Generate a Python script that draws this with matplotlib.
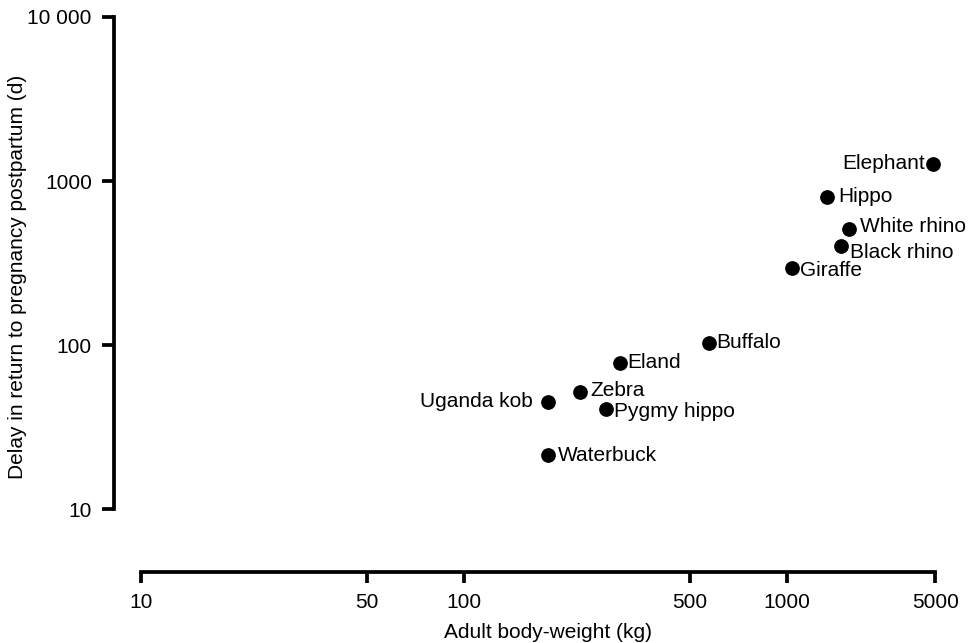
import numpy as np
import matplotlib
matplotlib.use("Agg")
import matplotlib.pyplot as plt
from matplotlib.ticker import NullLocator, FixedLocator, FixedFormatter

plt.rcParams["font.family"] = ["Liberation Sans", "DejaVu Sans"]

# values (body weight in kg, delay in days)
species = ["Elephant", "Hippo", "White rhino", "Black rhino", "Giraffe", "Buffalo",
           "Eland", "Zebra", "Uganda kob", "Pygmy hippo", "Waterbuck"]
body_kg = [4900, 1550, 1950, 1800, 1050, 575, 305, 228, 182, 275, 182]
delay_d = [1270, 800, 510, 400, 295, 103, 78, 52, 45, 41, 21.3]

x_ticks = [10, 50, 100, 500, 1000, 5000]
x_ticklabels = ["10", "50", "100", "500", "1000", "5000"]
y_ticks = [10, 100, 1000, 10000]
y_ticklabels = ["10", "100", "1000", "10 000"]

# label placement (offset in points, horizontal alignment)
label_offsets = {
    "Elephant": (-6, 0, "right"),
    "Hippo": (8, 0, "left"),
    "White rhino": (8, 1.5, "left"),
    "Black rhino": (6.5, -4.5, "left"),
    "Giraffe": (6, -2, "left"),
    "Buffalo": (5, 0, "left"),
    "Eland": (5, 0, "left"),
    "Zebra": (8, 0.5, "left"),
    "Uganda kob": (-11, 0, "right"),
    "Pygmy hippo": (6, -2, "left"),
    "Waterbuck": (7, 0, "left"),
}

# the printed x axis is log up to 1000 and squeezed beyond it
K = 212 / 323


def fwd(x):
    lx = np.log10(np.clip(x, 1e-9, None))
    return np.where(lx <= 3, lx, 3 + (lx - 3) * K)


def inv(u):
    u = np.asarray(u, dtype=float)
    return np.where(u <= 3, 10 ** u, 10 ** (3 + (u - 3) / K))


fig = plt.figure(figsize=(9.73, 6.43), dpi=100)
ax = fig.add_axes([114 / 973, 71 / 643, 831 / 973, 555 / 643])

ax.set_xscale("function", functions=(fwd, inv))
ax.set_yscale("log")
ax.set_xlim(8.25, 5560)
ax.set_ylim(4.13, 10000)

ax.scatter(body_kg, delay_d, s=92, color="black", zorder=3, clip_on=False)
for name, x, y in zip(species, body_kg, delay_d):
    dx, dy, ha = label_offsets[name]
    ax.annotate(name, (x, y), xytext=(dx, dy), textcoords="offset points",
                ha=ha, va="center", fontsize=15, color="black")

for side in ("top", "right"):
    ax.spines[side].set_visible(False)
ax.spines["left"].set_bounds(10, 10000)
ax.spines["bottom"].set_bounds(10, 5000)
for side in ("left", "bottom"):
    ax.spines[side].set_linewidth(2.7)
    ax.spines[side].set_capstyle("projecting")

ax.xaxis.set_major_locator(FixedLocator(x_ticks))
ax.xaxis.set_major_formatter(FixedFormatter(x_ticklabels))
ax.xaxis.set_minor_locator(NullLocator())
ax.yaxis.set_major_locator(FixedLocator(y_ticks))
ax.yaxis.set_major_formatter(FixedFormatter(y_ticklabels))
ax.yaxis.set_minor_locator(NullLocator())

ax.tick_params(axis="both", direction="out", width=2.7, labelsize=15, colors="black")
ax.tick_params(axis="y", length=9, pad=7)
ax.tick_params(axis="x", length=8, pad=7)

ax.set_xlabel("Adult body-weight (kg)", fontsize=15)
ax.xaxis.set_label_coords(0.522, -0.092)
ax.set_ylabel("Delay in return to pregnancy postpartum (d)", fontsize=15)
ax.yaxis.set_label_coords(-0.105, 0.532)

fig.savefig("out.png", dpi=100)
